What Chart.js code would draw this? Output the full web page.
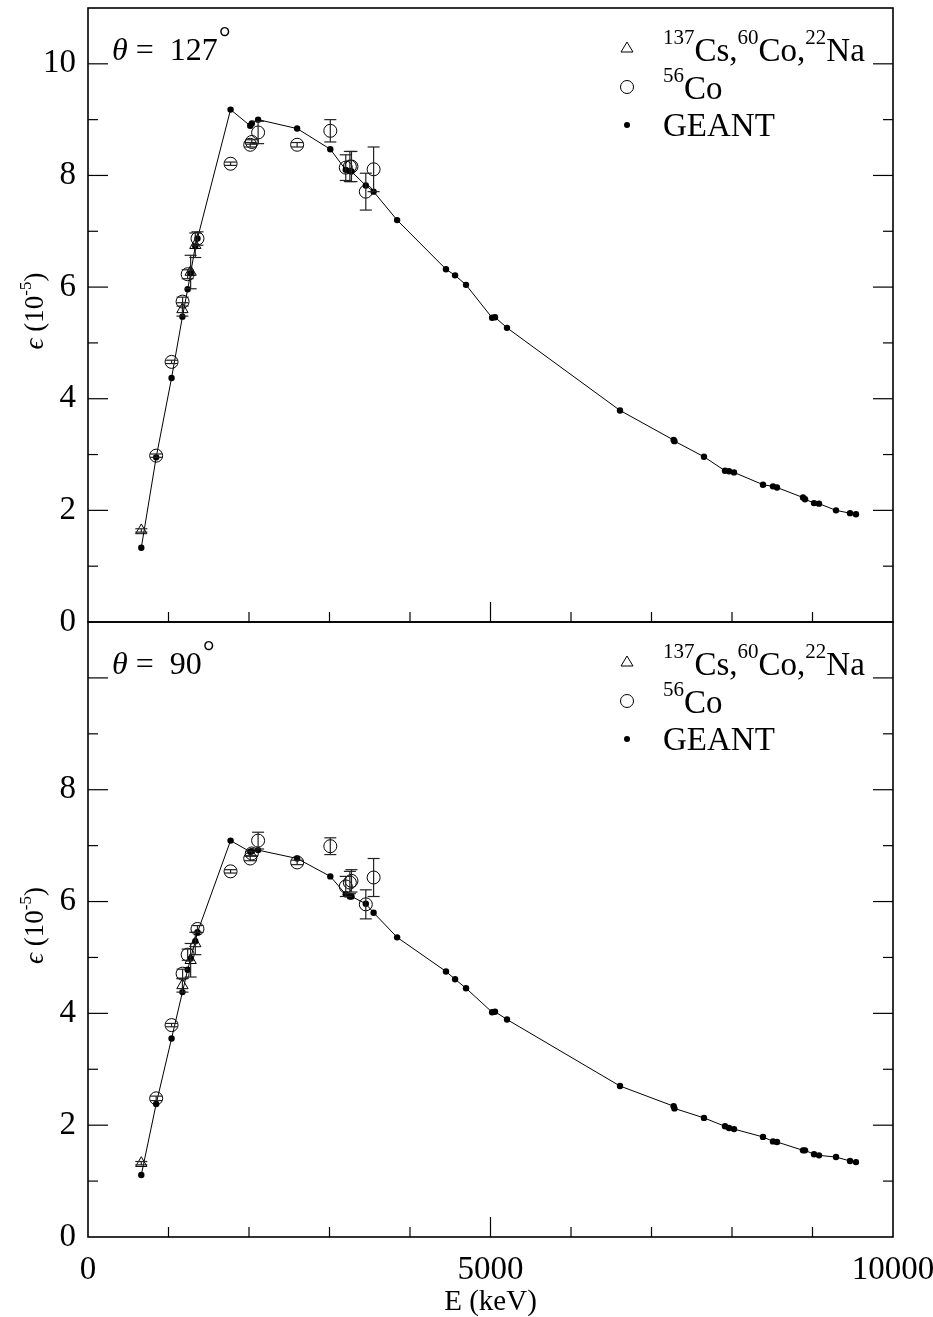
<!DOCTYPE html>
<html>
<head>
<meta charset="utf-8">
<script src="https://cdn.jsdelivr.net/npm/chart.js@4.4.1/dist/chart.umd.min.js"></script>
<style>
  body { margin: 0; background: #fff; }
  #wrap { position: relative; width: 933px; height: 1317px; }
  canvas { position: absolute; left: 0; }
  #top { top: 0; }
  #bot { top: 600px; }
</style>
</head>
<body>
<div id="wrap">
  <canvas id="top" width="933" height="650"></canvas>
  <canvas id="bot" width="933" height="717"></canvas>
</div>
<script>
// GEANT simulation (keV, efficiency in 1e-5)
const geantE = [662, 847, 1038, 1173, 1238, 1275, 1333, 1360, 1771, 2015, 2035, 2113, 2598, 3010,
  3202, 3253, 3273, 3451, 3548, 3840, 4447, 4560, 4696, 5020, 5056, 5205, 6609, 7275, 7285,
  7652, 7913, 7963, 8025, 8385, 8509, 8559, 8882, 8907, 9019, 9081, 9292, 9466, 9540];
const geant127 = [1.33, 2.95, 4.37, 5.47, 5.96, 6.25, 6.73, 6.87, 9.18, 8.89, 8.93, 9.0, 8.84, 8.47,
  8.10, 8.08, 8.07, 7.82, 7.71, 7.20, 6.32, 6.21, 6.04, 5.45, 5.46, 5.27, 3.79, 3.26, 3.24,
  2.96, 2.71, 2.70, 2.68, 2.46, 2.43, 2.41, 2.23, 2.20, 2.13, 2.12, 2.00, 1.95, 1.93];
const geant90 = [1.11, 2.38, 3.55, 4.38, 4.78, 4.98, 5.29, 5.45, 7.09, 6.89, 6.90, 6.92, 6.77, 6.45,
  6.13, 6.09, 6.09, 5.96, 5.80, 5.36, 4.75, 4.61, 4.45, 4.02, 4.03, 3.89, 2.70, 2.34, 2.30,
  2.13, 1.98, 1.95, 1.93, 1.79, 1.71, 1.70, 1.55, 1.55, 1.48, 1.46, 1.43, 1.36, 1.34];

// 56Co source
const coE = [847, 1038, 1175, 1238, 1360, 1771, 2015, 2035, 2113, 2598, 3010, 3202, 3253, 3273, 3451, 3548];
const co127 = [2.98, 4.66, 5.74, 6.23, 6.87, 8.21, 8.55, 8.60, 8.77, 8.55, 8.80, 8.14, 8.16, 8.16, 7.71, 8.11];
const co127Err = [0.03, 0.03, 0.08, 0.08, 0.12, 0.03, 0.04, 0.04, 0.20, 0.04, 0.20, 0.23, 0.27, 0.27, 0.33, 0.40];
const co90 = [2.48, 3.79, 4.71, 5.05, 5.51, 6.54, 6.77, 6.86, 7.09, 6.70, 6.99, 6.27, 6.34, 6.37, 5.95, 6.43];
const co90Err = [0.04, 0.03, 0.08, 0.10, 0.06, 0.03, 0.04, 0.04, 0.15, 0.04, 0.15, 0.18, 0.20, 0.20, 0.26, 0.34];

// 137Cs, 60Co, 22Na sources
const stdE = [662, 1173, 1275, 1333];
const std127 = [1.64, 5.60, 6.27, 6.75];
const std127Err = [0.03, 0.12, 0.30, 0.22];
const std90 = [1.32, 4.50, 4.95, 5.25];
const std90Err = [0.03, 0.12, 0.30, 0.20];

const xTicks = [0, 5000, 10000];
const yTicks127 = [0, 2, 4, 6, 8, 10];
const yTicks90 = [0, 2, 4, 6, 8];

const SERIF = '"Liberation Serif", "DejaVu Serif", serif';

function pts(xs, ys) {
  return xs.map((x, i) => ({ x: x, y: ys[i] }));
}

function line(ctx, x1, y1, x2, y2) {
  ctx.beginPath();
  ctx.moveTo(x1, y1);
  ctx.lineTo(x2, y2);
  ctx.stroke();
}

// draw a row of text pieces, some raised (superscripts) or italic
function drawRuns(ctx, x, y, runs) {
  let cx = x;
  runs.forEach(r => {
    ctx.font = (r.it ? 'italic ' : '') + r.size + 'px ' + SERIF;
    ctx.fillText(r.t, cx, y - (r.dy || 0));
    cx += ctx.measureText(r.t).width;
  });
  return cx - x;
}
function measureRuns(ctx, runs) {
  let w = 0;
  runs.forEach(r => {
    ctx.font = (r.it ? 'italic ' : '') + r.size + 'px ' + SERIF;
    w += ctx.measureText(r.t).width;
  });
  return w;
}

function noPad(s) {
  s.paddingTop = 0;
  s.paddingBottom = 0;
  s.paddingLeft = 0;
  s.paddingRight = 0;
}

// error bars, frame and inward ticks
const framePlugin = {
  id: 'frame',
  afterDatasetsDraw(chart) {
    const { ctx, chartArea: a, scales: { x, y } } = chart;
    ctx.save();
    ctx.strokeStyle = '#222';
    ctx.lineWidth = 1.2;
    chart.data.datasets.forEach(ds => {
      if (!ds.errs) return;
      ds.data.forEach((p, j) => {
        const px = x.getPixelForValue(p.x);
        const y1 = y.getPixelForValue(p.y + ds.errs[j]);
        const y2 = y.getPixelForValue(p.y - ds.errs[j]);
        line(ctx, px, y1, px, y2);
        line(ctx, px - 6, y1, px + 6, y1);
        line(ctx, px - 6, y2, px + 6, y2);
      });
    });
    ctx.strokeStyle = '#000';
    ctx.lineWidth = 1.6;
    ctx.strokeRect(a.left, a.top, a.right - a.left, a.bottom - a.top);
    ctx.lineWidth = 1.2;
    for (let v = 1; v <= 10; v++) {
      const py = y.getPixelForValue(v);
      const len = v % 2 === 0 ? 20 : 10;
      line(ctx, a.left, py, a.left + len, py);
      line(ctx, a.right, py, a.right - len, py);
    }
    for (let e = 1000; e < 10000; e += 1000) {
      const px = x.getPixelForValue(e);
      const len = e === 5000 ? 20 : 10;
      line(ctx, px, a.bottom, px, a.bottom - len);
    }
    ctx.restore();
  }
};

// theta label, legend and y axis title
const decoPlugin = {
  id: 'deco',
  afterDraw(chart, args, opts) {
    const { ctx, chartArea: a } = chart;
    ctx.save();
    ctx.fillStyle = '#000';
    ctx.strokeStyle = '#000';
    ctx.textBaseline = 'alphabetic';
    ctx.textAlign = 'left';

    // theta label
    const tb = a.top + 52;
    const w = drawRuns(ctx, 112, tb, [
      { t: 'θ', size: 32, it: true },
      { t: ' =  ' + opts.angle, size: 32 }
    ]);
    drawRuns(ctx, 112 + w + 1, tb - 13, [{ t: '°', size: 30 }]);

    // legend
    const mx = 627;
    const r1 = a.top + 53, r2 = a.top + 91, r3 = a.top + 128;
    ctx.lineWidth = 1;
    ctx.beginPath();
    ctx.moveTo(mx, r1 - 19); ctx.lineTo(mx + 6, r1 - 9); ctx.lineTo(mx - 6, r1 - 9); ctx.closePath();
    ctx.stroke();
    ctx.beginPath();
    ctx.arc(mx, r2 - 12, 6.5, 0, Math.PI * 2);
    ctx.stroke();
    ctx.beginPath();
    ctx.arc(mx, r3 - 11, 3, 0, Math.PI * 2);
    ctx.fill();
    const tx = 663;
    drawRuns(ctx, tx, r1, [
      { t: '137', size: 21, dy: 17 }, { t: 'Cs,', size: 33 },
      { t: '60', size: 21, dy: 17 }, { t: 'Co,', size: 33 },
      { t: '22', size: 21, dy: 17 }, { t: 'Na', size: 33 }
    ]);
    drawRuns(ctx, tx, r2, [{ t: '56', size: 21, dy: 17 }, { t: 'Co', size: 33 }]);
    drawRuns(ctx, tx, r3, [{ t: 'GEANT', size: 33 }]);

    // y title, rotated
    const runs = [
      { t: 'ϵ', size: 27, it: true }, { t: ' (10', size: 27 },
      { t: '-5', size: 17, dy: 12 }, { t: ')', size: 27 }
    ];
    const tw = measureRuns(ctx, runs);
    ctx.translate(43, (a.top + a.bottom) / 2 - 4);
    ctx.rotate(-Math.PI / 2);
    drawRuns(ctx, -tw / 2, 0, runs);
    ctx.restore();
  }
};

function makePanel(id, geantY, coY, coErr, stdY, stdErr, angle, yLabels, bottom) {
  const ctx = document.getElementById(id).getContext('2d');
  return new Chart(ctx, {
    type: 'scatter',
    data: {
      datasets: [
        {
          label: '137Cs, 60Co, 22Na',
          data: pts(stdE, stdY),
          errs: stdErr,
          pointStyle: 'triangle',
          pointRadius: 6.5,
          pointBorderWidth: 1,
          pointBorderColor: '#000',
          pointBackgroundColor: 'rgba(0,0,0,0)',
          showLine: false
        },
        {
          label: '56Co',
          data: pts(coE, coY),
          errs: coErr,
          pointStyle: 'circle',
          pointRadius: 6.5,
          pointBorderWidth: 1,
          pointBorderColor: '#000',
          pointBackgroundColor: 'rgba(0,0,0,0)',
          showLine: false
        },
        {
          label: 'GEANT',
          data: pts(geantE, geantY),
          showLine: true,
          borderColor: '#000',
          borderWidth: 1,
          tension: 0,
          pointRadius: 3.2,
          pointBorderWidth: 0,
          pointBackgroundColor: '#000'
        }
      ]
    },
    options: {
      responsive: false,
      animation: false,
      events: [],
      layout: {
        autoPadding: false,
        padding: { left: 0, right: 40, top: bottom ? 22 : 8, bottom: bottom ? 0 : 28 }
      },
      plugins: {
        legend: { display: false },
        tooltip: { enabled: false },
        deco: { angle: angle }
      },
      scales: {
        x: {
          type: 'linear',
          min: 0,
          max: 10000,
          display: bottom,
          grid: { display: false, drawTicks: false },
          border: { display: false },
          ticks: {
            font: { family: SERIF, size: 33 },
            color: '#000',
            padding: 14,
            maxRotation: 0,
            callback: v => String(v)
          },
          title: {
            display: true,
            text: 'E (keV)',
            font: { family: SERIF, size: 29 },
            color: '#000',
            padding: { top: 0, bottom: -3 }
          },
          afterBuildTicks: s => { s.ticks = xTicks.map(v => ({ value: v })); },
          afterFit: s => {
            if (bottom) s.height = 80;
            noPad(s);
          }
        },
        y: {
          min: 0,
          max: 11,
          grid: { display: false, drawTicks: false },
          border: { display: false },
          ticks: {
            font: { family: SERIF, size: 33 },
            color: '#000',
            padding: 12,
            callback: v => String(v)
          },
          afterBuildTicks: s => { s.ticks = yLabels.map(v => ({ value: v })); },
          afterFit: s => {
            s.width = 88;
            noPad(s);
          }
        }
      }
    },
    plugins: [framePlugin, decoPlugin]
  });
}

makePanel('top', geant127, co127, co127Err, std127, std127Err, '127', yTicks127, false);
makePanel('bot', geant90, co90, co90Err, std90, std90Err, '90', yTicks90, true);
</script>
</body>
</html>
